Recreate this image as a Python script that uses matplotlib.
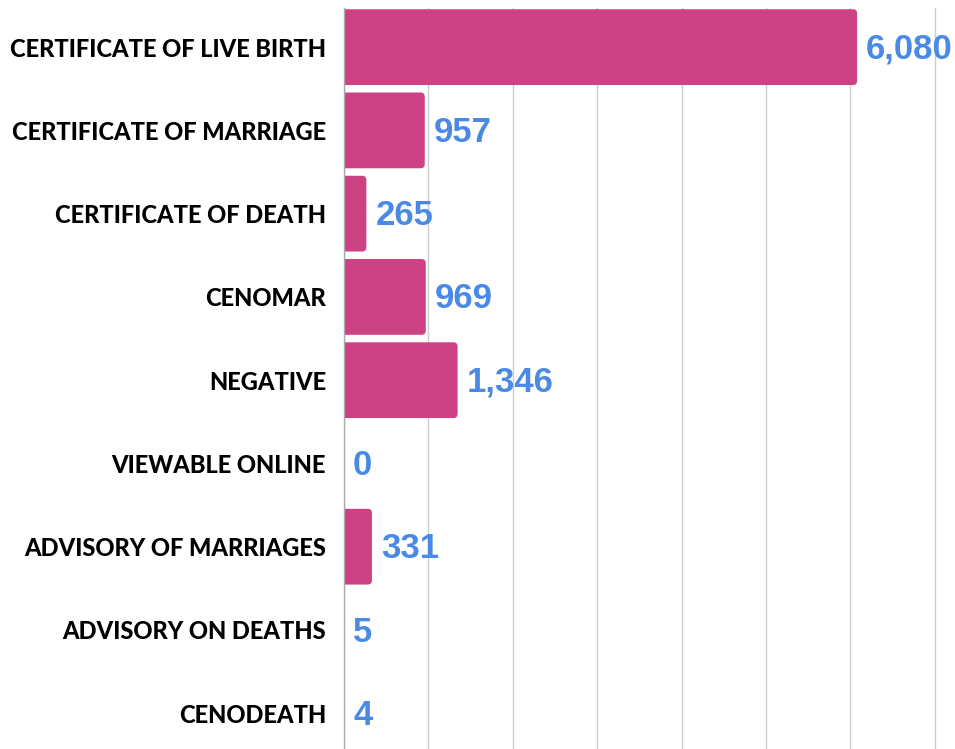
import matplotlib
matplotlib.use("Agg")
import matplotlib.pyplot as plt
from matplotlib.patches import FancyBboxPatch

categories = ["CERTIFICATE OF LIVE BIRTH", "CERTIFICATE OF MARRIAGE", "CERTIFICATE OF DEATH",
              "CENOMAR", "NEGATIVE", "VIEWABLE ONLINE", "ADVISORY OF MARRIAGES",
              "ADVISORY ON DEATHS", "CENODEATH"]
values = [6080, 957, 265, 969, 1346, 0, 331, 5, 4]

bar_color = "#CD4283"
label_color = "#4A8AE6"

fig = plt.figure(figsize=(9.55, 7.49), dpi=100)
ax = fig.add_axes([344 / 955, 0, 611 / 955, 741 / 749])

ypos = list(range(len(categories)))
bars = ax.barh(ypos, values, height=0.91, color=bar_color, zorder=2)

ax.set_xlim(0, 7240)
ax.set_ylim(len(categories) - 1 + 0.43, -0.47)

# swap plain bars for ones with rounded right corners
r = 50
for b in bars:
    w, h = b.get_width(), b.get_height()
    y0 = b.get_y()
    rs = min(r, (w + r) / 2)
    p = FancyBboxPatch((-r, y0), w + r, h,
                       boxstyle=f"round,pad=0,rounding_size={rs}",
                       mutation_aspect=0.001, facecolor=bar_color,
                       edgecolor="none", zorder=2)
    ax.add_patch(p)
    b.set_visible(False)

for y, v in zip(ypos, values):
    ax.annotate(f"{v:,}", xy=(v, y), xytext=(6.5, -1.5), textcoords="offset points",
                ha="left", va="center", color=label_color, fontsize=25,
                fontweight="bold", family="Liberation Sans")

ax.set_xticks(range(0, 8000, 1000))
ax.set_xticklabels([])
ax.tick_params(axis="x", length=0)
ax.grid(axis="x", color="#CCCCCC", linewidth=1, zorder=0)
ax.set_axisbelow(True)

ax.set_yticks(ypos)
ax.set_yticklabels(categories, fontsize=17, fontweight="black", family=["Lato", "DejaVu Sans"])
ax.tick_params(axis="y", length=0, pad=13)

for s in ["top", "right", "bottom"]:
    ax.spines[s].set_visible(False)
ax.spines["left"].set_color("#AAAAAA")
ax.spines["left"].set_linewidth(1)

fig.savefig("out.png", dpi=100, facecolor="white")
